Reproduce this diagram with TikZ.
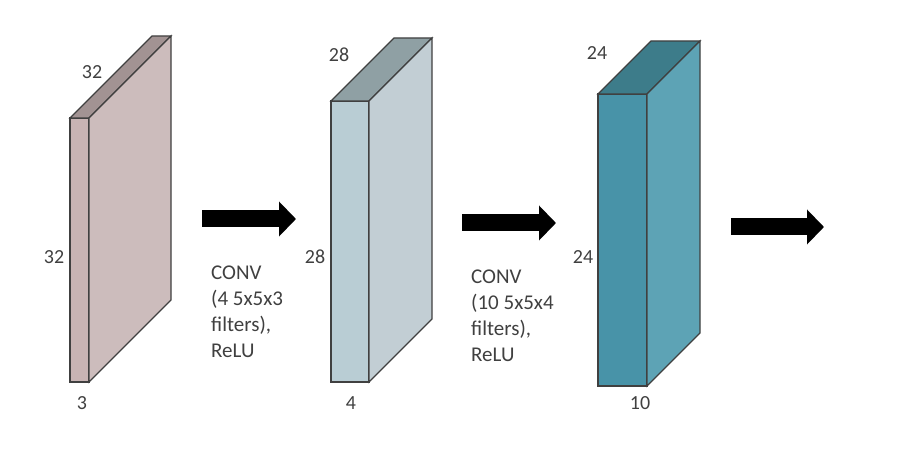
\documentclass[tikz,border=0pt]{standalone}
\usepackage{fontspec}
\setmainfont{Carlito}
\usetikzlibrary{arrows.meta}

\definecolor{inFront}{HTML}{C8B4B4}
\definecolor{inSide}{HTML}{CCBCBC}
\definecolor{inTop}{HTML}{A29393}
\definecolor{midFront}{HTML}{B9CDD4}
\definecolor{midSide}{HTML}{C2CED4}
\definecolor{midTop}{HTML}{8FA0A4}
\definecolor{outFront}{HTML}{4893A8}
\definecolor{outSide}{HTML}{5DA3B5}
\definecolor{outTop}{HTML}{3D7C8A}
\definecolor{labelgray}{HTML}{404040}

% #1 name, #2 left x, #3 top y, #4 width, #5 height, #6 depth, #7 colour prefix
\newcommand{\featuremap}[7]{%
  \coordinate (#1-ftl) at (#2,#3);
  \coordinate (#1-ftr) at (#2+#4,#3);
  \coordinate (#1-fbl) at (#2,#3+#5);
  \coordinate (#1-fbr) at (#2+#4,#3+#5);
  \coordinate (#1-btl) at (#2+#6,#3-#6);
  \coordinate (#1-btr) at (#2+#4+#6,#3-#6);
  \coordinate (#1-bbr) at (#2+#4+#6,#3+#5-#6);
  \filldraw[face, fill=#7Front] (#1-ftl) rectangle (#1-fbr);
  \filldraw[face, fill=#7Top] (#1-ftl) -- (#1-btl) -- (#1-btr) -- (#1-ftr) -- cycle;
  \filldraw[face, fill=#7Side] (#1-ftr) -- (#1-btr) -- (#1-bbr) -- (#1-fbr) -- cycle;
}

\begin{document}
\begin{tikzpicture}[
  x=1pt, y=-1pt,
  face/.style={draw=black!75, line width=1.2pt, line join=miter},
  dim/.style={font=\fontsize{20}{24}\selectfont, text=labelgray, inner sep=0pt},
  note/.style={font=\fontsize{21}{26}\selectfont, text=labelgray, align=left, anchor=north west, inner sep=0pt},
  bigarrow/.style={line width=17pt, -{Triangle[length=17pt, width=34pt]}}
]
\useasboundingbox (0,0) rectangle (922,462);

% input volume
\featuremap{input}{70}{118}{19}{264}{82}{in}
\node[dim] (inW) at (92,72) {32};
\node[dim] (inH) at (54,257) {32};
\node[dim] (inD) at (82,403) {3};

% first conv output
\featuremap{convA}{331}{101}{38}{281}{63}{mid}
\node[dim] (aW) at (339,55) {28};
\node[dim] (aH) at (315,257) {28};
\node[dim] (aD) at (351,403) {4};

% second conv output
\featuremap{convB}{598}{94}{49}{292}{53}{out}
\node[dim] (bW) at (597,53) {24};
\node[dim] (bH) at (583,257) {24};
\node[dim] (bD) at (640,403) {10};

% layer notes
\node[note] (noteA) at (211,266) {CONV\\(4 5x5x3\\filters),\\ReLU};
\node[note] (noteB) at (471,270) {CONV\\(10 5x5x4\\filters),\\ReLU};

% arrows
\coordinate (arrA-s) at (202,219);
\coordinate (arrA-e) at (296,219);
\coordinate (arrB-s) at (462,223);
\coordinate (arrB-e) at (556,223);
\coordinate (arrC-s) at (731,227);
\coordinate (arrC-e) at (824,227);
\draw[bigarrow] (arrA-s) -- (arrA-e);
\draw[bigarrow] (arrB-s) -- (arrB-e);
\draw[bigarrow] (arrC-s) -- (arrC-e);
\end{tikzpicture}
\end{document}
